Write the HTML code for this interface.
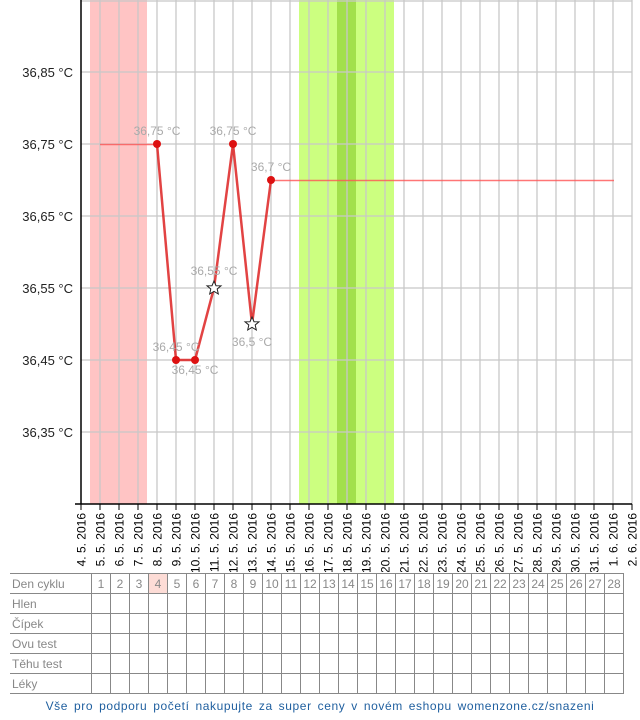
<!DOCTYPE html>
<html><head><meta charset="utf-8"><style>
body{margin:0;background:#fff;width:640px;height:720px;overflow:hidden;font-family:"Liberation Sans",sans-serif}
table{position:absolute;left:10px;top:573px;border-collapse:collapse;font-size:12px;color:#888}
td{border:1px solid #888;height:19px;padding:0;width:18px;text-align:center}
td.h{width:79px;text-align:left;padding-left:2px;border-left:none}
.foot{position:absolute;top:699px;left:0;width:640px;text-align:center;font-size:12px;color:#1f5f9f;word-spacing:2px;letter-spacing:0.6px}
</style></head><body>
<svg width="640" height="572" style="position:absolute;left:0;top:0" font-family="Liberation Sans, sans-serif">
<rect x="90" y="0" width="57" height="504" fill="#ffc4c4"/>
<rect x="299" y="0" width="95" height="504" fill="#ccff80"/>
<rect x="337" y="0" width="19" height="504" fill="#a2e04c"/>
<g stroke="#c8c8c8" stroke-width="1.3">
<line x1="81" y1="1" x2="632" y2="1"/>
<line x1="81" y1="72" x2="632" y2="72"/><line x1="81" y1="144" x2="632" y2="144"/><line x1="81" y1="216" x2="632" y2="216"/><line x1="81" y1="288" x2="632" y2="288"/><line x1="81" y1="360" x2="632" y2="360"/><line x1="81" y1="432" x2="632" y2="432"/>
<g id="v"></g>
</g>
<g font-size="13" text-anchor="end" fill="#222">
<text x="73" y="77">36,85 °C</text><text x="73" y="149">36,75 °C</text><text x="73" y="221">36,65 °C</text><text x="73" y="293">36,55 °C</text><text x="73" y="365">36,45 °C</text><text x="73" y="437">36,35 °C</text>
</g>
<line x1="81" y1="0" x2="81" y2="504" stroke="#000" stroke-width="1.5"/>
<line x1="75" y1="504" x2="632" y2="504" stroke="#000" stroke-width="1.5"/>
<line x1="100" y1="144.5" x2="157" y2="144.5" stroke="#f55" stroke-width="1.5" opacity="0.8"/>
<line x1="271" y1="180.5" x2="614" y2="180.5" stroke="#f55" stroke-width="1.5" opacity="0.8"/>
<polyline points="157,144 176,360 195,360 214,288 233,144 252,324 271,180" fill="none" stroke="#d22" stroke-width="2.5" opacity="0.85"/>
<g fill="#d11"><circle cx="157" cy="144" r="4"/><circle cx="176" cy="360" r="4"/><circle cx="195" cy="360" r="4"/><circle cx="233" cy="144" r="4"/><circle cx="271" cy="180" r="4"/></g>
<g fill="#fff" stroke="#222" stroke-width="1">
<polygon transform="translate(214,288)" points="0,-7 2,-2.3 7,-2.2 3.2,1 4.3,6 0,3.3 -4.3,6 -3.2,1 -7,-2.2 -2,-2.3"/>
<polygon transform="translate(252,324)" points="0,-7 2,-2.3 7,-2.2 3.2,1 4.3,6 0,3.3 -4.3,6 -3.2,1 -7,-2.2 -2,-2.3"/>
</g>
<g font-size="12" fill="#aaa" text-anchor="middle">
<text x="157" y="135">36,75 °C</text><text x="233" y="135">36,75 °C</text><text x="271" y="171">36,7 °C</text>
<text x="214" y="275">36,55 °C</text><text x="252" y="346">36,5 °C</text><text x="176" y="351">36,45 °C</text><text x="195" y="374">36,45 °C</text>
</g>
<g id="t" font-size="12" fill="#000"></g>
</svg>
<script>
var v=document.getElementById('v'),t=document.getElementById('t'),ns='http://www.w3.org/2000/svg';
var dates=[];for(var d=4;d<=31;d++)dates.push(d+'. 5. 2016');dates.push('1. 6. 2016');dates.push('2. 6. 2016');
for(var i=0;i<30;i++){var x=81+19*i;
if(i>0){var l=document.createElementNS(ns,'line');l.setAttribute('x1',x);l.setAttribute('x2',x);l.setAttribute('y1',0);l.setAttribute('y2',504);v.appendChild(l);}
var k=document.createElementNS(ns,'line');k.setAttribute('x1',x);k.setAttribute('x2',x);k.setAttribute('y1',504);k.setAttribute('y2',510);k.setAttribute('stroke','#000');t.appendChild(k);
var tx=document.createElementNS(ns,'text');tx.setAttribute('text-anchor','end');tx.setAttribute('transform','translate('+(x+4.5)+',513) rotate(-90)');tx.textContent=dates[i];t.appendChild(tx);}
</script>
<table>
<tr><td class="h">Den cyklu</td><td>1</td><td>2</td><td>3</td><td style="background:#fddcd6">4</td><td>5</td><td>6</td><td>7</td><td>8</td><td>9</td><td>10</td><td>11</td><td>12</td><td>13</td><td>14</td><td>15</td><td>16</td><td>17</td><td>18</td><td>19</td><td>20</td><td>21</td><td>22</td><td>23</td><td>24</td><td>25</td><td>26</td><td>27</td><td>28</td></tr>
<tr><td class="h">Hlen</td></tr><tr><td class="h">Čípek</td></tr><tr><td class="h">Ovu test</td></tr><tr><td class="h">Těhu test</td></tr><tr><td class="h">Léky</td></tr>
</table>
<script>
var rows=document.querySelectorAll('tr');for(var r=1;r<rows.length;r++)for(var c=0;c<28;c++)rows[r].appendChild(document.createElement('td'));
</script>
<div class="foot">Vše pro podporu početí nakupujte za super ceny v novém eshopu womenzone.cz/snazeni</div>
</body></html>
